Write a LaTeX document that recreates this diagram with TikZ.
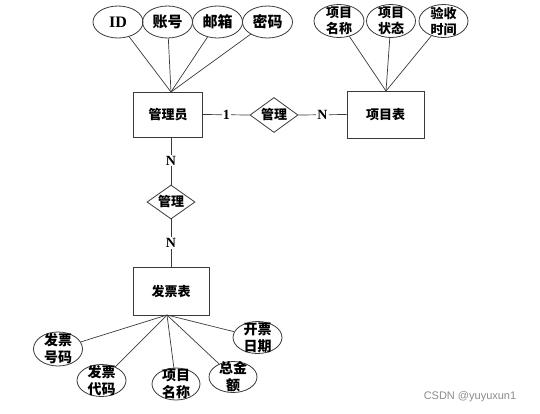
\documentclass[tikz,border=0pt]{standalone}
\usepackage{fontspec}
\setmainfont{Liberation Serif}
\newfontfamily\cjk{Noto Sans CJK SC}
\usetikzlibrary{shapes.geometric}
\definecolor{ln}{HTML}{3A3A3A}
\tikzset{
  ent/.style={draw=ln, line width=0.9pt, rectangle, font=\cjk\bfseries\fontsize{13}{13}\selectfont},
  attr/.style={draw=ln, line width=0.8pt, ellipse, inner sep=0pt, minimum width=49pt, minimum height=33pt},
  rel/.style={draw=ln, line width=0.8pt, diamond, inner sep=0pt, minimum width=48pt, minimum height=35pt},
  txt/.style={font=\cjk\bfseries\fontsize{13}{16}\selectfont, align=center, inner sep=0pt},
  big/.style={font=\cjk\bfseries\fontsize{15}{15}\selectfont, inner sep=0pt},
  card/.style={font=\bfseries\fontsize{14}{14}\selectfont, fill=white, inner sep=1pt},
  conn/.style={draw=ln, line width=0.7pt}
}
\begin{document}
\begin{tikzpicture}[x=1pt,y=-1pt]
\useasboundingbox[fill=white] (0,0) rectangle (540,413);
% entities
\node[ent, minimum width=69pt, minimum height=45pt] (adm) at (168,114.5) {管理员};
\node[ent, minimum width=77pt, minimum height=47pt] (proj) at (385.5,114.5) {项目表};
\node[ent, minimum width=76pt, minimum height=48pt] (inv) at (171,291) {发票表};
% relations
\node[rel] (r1) at (274,115) {};
\node[txt] at (r1) {管理};
\node[rel, minimum height=34pt] (r2) at (171,202) {};
\node[txt] at (r2) {管理};
% admin attributes
\node[attr, minimum width=50pt, minimum height=32pt] (id) at (118,22) {};
\node[big, font=\bfseries\fontsize{16}{16}\selectfont] at (id) {ID};
\node[attr, minimum width=50pt, minimum height=32pt] (acc) at (167.5,22) {};
\node[big] at (acc) {账号};
\node[attr, minimum width=50pt, minimum height=32pt] (mail) at (217.5,22) {};
\node[big] at (mail) {邮箱};
\node[attr, minimum width=50pt, minimum height=32pt] (pwd) at (267.5,22) {};
\node[big] at (pwd) {密码};
% project attributes
\node[attr, minimum width=50pt, minimum height=33pt] (pn) at (339,21) {};
\node[txt] at (pn) {项目\\名称};
\node[attr, minimum width=49pt, minimum height=33pt] (ps) at (391,21) {};
\node[txt] at (ps) {项目\\状态};
\node[attr, minimum width=49pt, minimum height=33pt] (pt) at (443.5,21) {};
\node[txt] at (pt) {验收\\时间};
% invoice attributes
\node[attr, minimum width=49pt, minimum height=34pt] (ino) at (58,349) {};
\node[txt, font=\cjk\bfseries\fontsize{14}{17}\selectfont] at (ino) {发票\\号码};
\node[attr, minimum width=49pt, minimum height=32pt] (icd) at (101.5,380.5) {};
\node[txt, font=\cjk\bfseries\fontsize{14}{17}\selectfont] at (icd) {发票\\代码};
\node[attr, minimum width=48pt, minimum height=32pt] (ipn) at (176,384) {};
\node[txt, font=\cjk\bfseries\fontsize{14}{17}\selectfont] at (ipn) {项目\\名称};
\node[attr, minimum width=48pt, minimum height=31pt] (amt) at (233,377) {};
\node[txt, font=\cjk\bfseries\fontsize{14}{17}\selectfont] at (amt) {总金\\额};
\node[attr, minimum width=49pt, minimum height=32pt] (idt) at (257.5,337.5) {};
\node[txt, font=\cjk\bfseries\fontsize{14}{17}\selectfont] at (idt) {开票\\日期};
% connectors
\coordinate (admtop) at (171,92);
\coordinate (projtop) at (386,91);
\coordinate (invbot) at (167,315);
\foreach \a in {id,acc,mail,pwd} \draw[conn] (\a) -- (admtop);
\foreach \a in {pn,ps,pt} \draw[conn] (\a) -- (projtop);
\foreach \a in {ino,icd,ipn,amt,idt} \draw[conn] (\a) -- (invbot);
\draw[conn] (adm.east) -- node[card]{1} (r1.west);
\draw[conn] (r1.east) -- node[card]{N} (proj.west);
\draw[conn] (171,137) -- node[card]{N} (r2.north);
\draw[conn] (r2.south) -- node[card]{N} (inv.north);
% watermark
\node[font=\fontspec{Liberation Sans}\fontsize{11}{11}\selectfont, text=black!45] (wm) at (470,397) {CSDN @yuyuxun1};
\end{tikzpicture}
\end{document}
